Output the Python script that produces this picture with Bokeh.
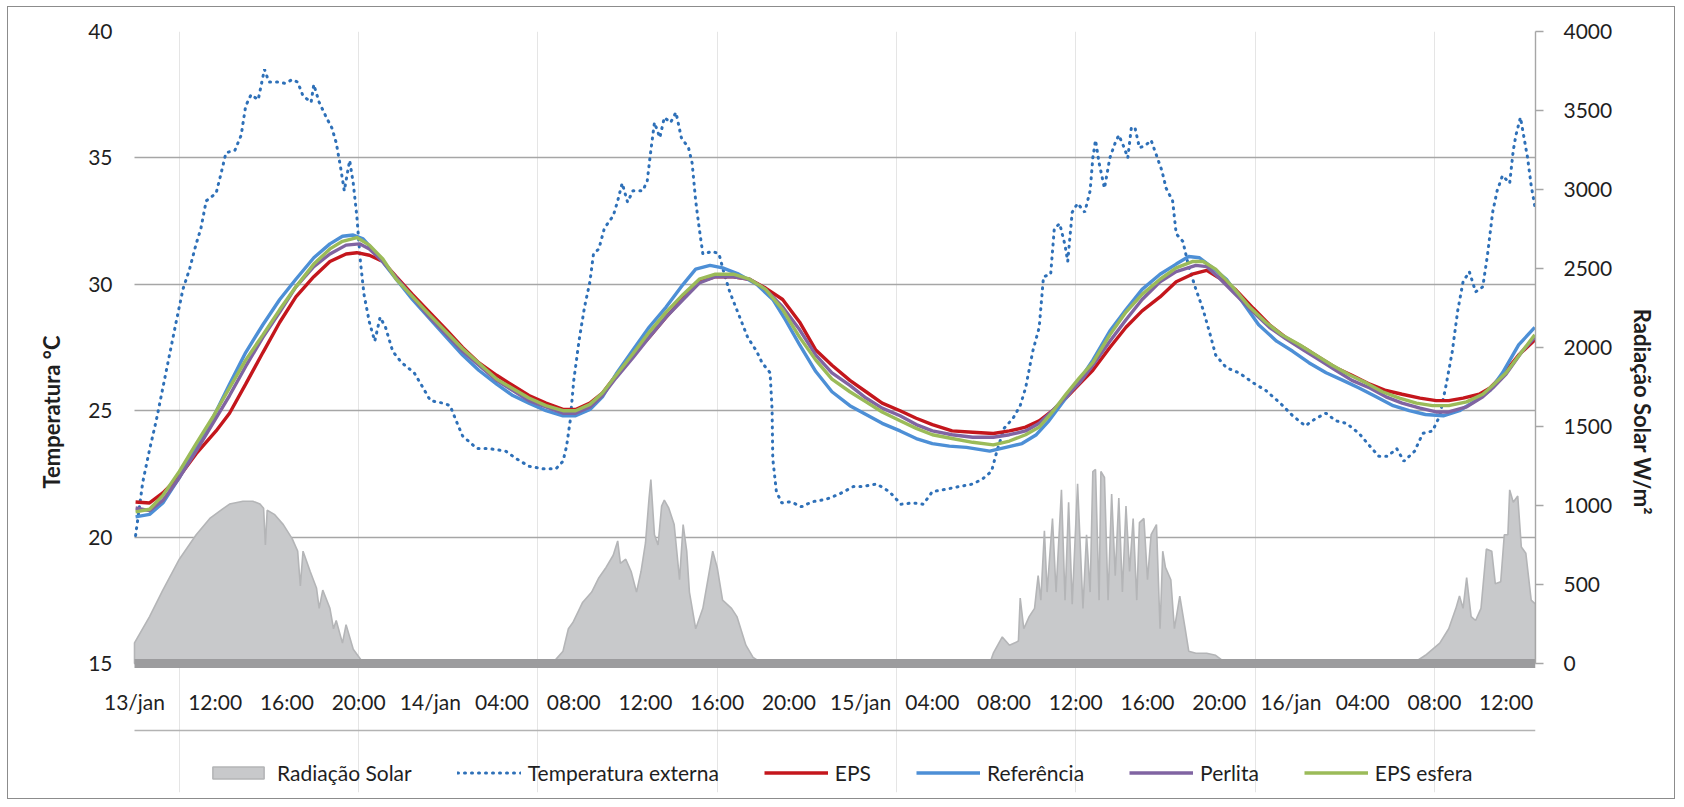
from bokeh.plotting import figure
from bokeh.models import (Range1d, LinearAxis, FixedTicker, Legend, LegendItem)
from bokeh.embed import file_html
from bokeh.resources import INLINE

# ---------------- data (hours counted from 13/jan 00:00) ----------------
tick_hours = [7.5, 12, 16, 20, 24, 28, 32, 36, 40, 44, 48, 52, 56, 60, 64, 68, 72, 76, 80, 84]
tick_labels = ["13/jan", "12:00", "16:00", "20:00", "14/jan", "04:00", "08:00", "12:00",
               "16:00", "20:00", "15/jan", "04:00", "08:00", "12:00", "16:00", "20:00",
               "16/jan", "04:00", "08:00", "12:00"]
x_start, x_end = 7.5, 85.64

temp_ticks = [15, 20, 25, 30, 35, 40]
rad_ticks = [0, 500, 1000, 1500, 2000, 2500, 3000, 3500, 4000]

rad_h = [7.5, 8.34, 9.08, 10.0, 10.94, 11.7, 12.25, 12.8, 13.55, 14.1, 14.5, 14.7, 14.8, 14.9,
         15.3, 15.8, 16.3, 16.6, 16.75, 16.9, 17.3, 17.65, 17.8, 18.0, 18.4, 18.6, 18.75, 19.1,
         19.3, 19.7, 20.2, 20.4, 30.45, 31.0, 31.4, 31.7, 31.95, 32.5, 33.0, 33.4, 33.8, 34.2,
         34.45, 34.6, 34.9, 35.2, 35.5, 35.75, 36.0, 36.2, 36.3, 36.5, 36.7, 36.9, 37.05, 37.3,
         37.6, 37.9, 38.1, 38.3, 38.45, 38.8, 39.2, 39.6, 39.75, 40.0, 40.3, 40.8, 41.1, 41.6,
         42.0, 42.35, 42.6, 55.2, 55.4, 55.9, 56.3, 56.8, 56.9, 57.1, 57.4, 57.7, 57.9, 58.05,
         58.25, 58.4, 58.7, 58.9, 59.2, 59.4, 59.6, 59.8, 60.1, 60.4, 60.6, 60.8, 60.95, 61.1,
         61.3, 61.4, 61.6, 61.8, 62.0, 62.2, 62.4, 62.6, 62.8, 63.0, 63.2, 63.4, 63.55, 63.8,
         64.0, 64.2, 64.5, 64.7, 64.85, 65.0, 65.3, 65.5, 65.8, 66.1, 66.3, 66.7, 67.3, 67.8,
         68.4, 78.8, 79.5, 80.3, 80.8, 81.2, 81.4, 81.6, 81.8, 82.05, 82.3, 82.6, 82.9, 83.2,
         83.4, 83.7, 83.9, 84.1, 84.2, 84.4, 84.65, 84.85, 85.1, 85.4, 85.64]
rad = [130, 297, 465, 660, 815, 918, 965, 1009, 1027, 1027, 1009, 983, 750, 970,
       944, 879, 789, 711, 491, 711, 582, 478, 349, 465, 349, 220, 272, 129,
       246, 90, 13, 0, 0, 26, 78, 220, 259, 388, 452, 543, 608, 685,
       776, 634, 660, 582, 452, 582, 763, 1047, 1164, 815, 750, 996, 1034, 983,
       879, 530, 879, 711, 452, 220, 349, 608, 711, 608, 401, 349, 297, 116,
       39, 13, 0, 0, 65, 168, 116, 142, 414, 220, 297, 349, 556, 401,
       840, 452, 918, 452, 1099, 401, 1021, 375, 1138, 349, 815, 452, 1215, 1228,
       401, 1215, 1177, 401, 1073, 556, 1047, 452, 996, 582, 918, 401, 892, 918,
       530, 815, 879, 220, 711, 608, 530, 220, 427, 220, 78, 65, 65, 52,
       0, 0, 52, 129, 220, 349, 427, 349, 543, 297, 272, 349, 724, 711,
       504, 517, 815, 815, 1099, 1021, 1060, 737, 698, 401, 375]

temp_ext_h = [7.56, 7.96, 8.34, 8.71, 9.08, 9.45, 9.82, 10.2, 10.57, 10.94, 11.2, 11.5, 12.05,
              12.3, 12.6, 13.1, 13.45, 13.7, 14.0, 14.4, 14.66, 14.75, 15.0, 15.5, 15.9, 16.3,
              16.6, 16.9, 17.35, 17.5, 17.8, 18.2, 18.5, 18.75, 19.0, 19.2, 19.5, 19.7, 19.9,
              20.1, 20.3, 20.6, 20.9, 21.2, 21.5, 21.9, 22.4, 23.1, 23.6, 24.0, 24.7, 25.1,
              25.5, 25.8, 26.6, 27.3, 28.2, 28.8, 29.5, 30.3, 31.0, 31.4, 31.6, 31.8, 32.0,
              32.3, 32.6, 32.9, 33.1, 33.4, 33.7, 33.98, 34.2, 34.45, 34.7, 35.0, 35.3, 35.85,
              36.1, 36.3, 36.5, 36.8, 37.05, 37.4, 37.7, 38.0, 38.4, 38.6, 38.8, 39.0, 39.2,
              39.75, 40.1, 40.4, 40.7, 41.2, 41.7, 42.2, 42.5, 42.95, 43.06, 43.1, 43.3, 43.6,
              44.1, 44.7, 45.3, 46.1, 46.8, 47.6, 48.1, 48.9, 49.6, 50.25, 50.9, 51.5, 52.0,
              52.8, 53.5, 54.25, 54.8, 55.3, 55.6, 56.0, 56.5, 56.9, 57.2, 57.6, 57.96, 58.2,
              58.6, 58.8, 59.1, 59.4, 59.55, 59.8, 60.1, 60.5, 60.8, 60.95, 61.1, 61.3, 61.6,
              61.9, 62.2, 62.4, 62.7, 62.9, 63.1, 63.3, 63.55, 63.9, 64.2, 64.5, 64.8, 65.04,
              65.4, 65.6, 65.97, 66.3, 66.7, 67.1, 67.5, 67.8, 68.4, 69.1, 69.9, 70.6, 71.4,
              72.1, 72.8, 73.4, 73.96, 74.5, 75.1, 75.8, 76.4, 76.9, 77.4, 77.9, 78.3, 78.9,
              79.35, 79.9, 80.3, 80.65, 81.0, 81.3, 81.6, 81.95, 82.3, 82.7, 82.97, 83.25,
              83.5, 83.8, 84.2, 84.4, 84.55, 84.8, 85.0, 85.2, 85.4, 85.6]
temp_ext = [20.06, 22.17, 23.46, 24.6, 25.9, 27.2, 28.5, 29.8, 30.6, 31.6, 32.2, 33.3, 33.6,
            34.3, 35.2, 35.3, 35.9, 37.05, 37.5, 37.3, 38.2, 38.5, 38.0, 38.0, 37.95, 38.1,
            38.0, 37.45, 37.2, 37.9, 37.2, 36.6, 36.2, 35.6, 34.6, 33.7, 34.9, 34.0, 32.7,
            30.9, 29.6, 28.5, 27.75, 28.7, 28.3, 27.35, 26.9, 26.5, 25.9, 25.4, 25.3, 25.2,
            24.5, 24.0, 23.5, 23.5, 23.4, 23.1, 22.8, 22.7, 22.7, 23.0, 23.6, 24.6, 26.2,
            27.8, 29.1, 30.1, 31.2, 31.4, 32.2, 32.5, 32.7, 33.3, 34.0, 33.25, 33.7, 33.7,
            34.1, 35.3, 36.4, 35.8, 36.6, 36.4, 36.8, 35.8, 35.4, 34.8, 33.3, 32.2, 31.2,
            31.3, 31.2, 30.4, 29.7, 28.8, 27.9, 27.35, 26.9, 26.5, 25.05, 23.1, 21.8, 21.35,
            21.4, 21.2, 21.4, 21.5, 21.7, 22.0, 22.0, 22.1, 21.8, 21.3, 21.35, 21.3, 21.8,
            21.9, 22.0, 22.1, 22.3, 22.6, 23.4, 24.3, 24.7, 25.2, 25.9, 27.35, 28.3, 30.3,
            30.4, 32.2, 32.4, 31.55, 30.9, 32.85, 33.2, 32.85, 33.7, 35.0, 35.7, 34.8, 33.8,
            35.0, 35.6, 35.9, 35.4, 35.0, 36.2, 36.2, 35.4, 35.5, 35.7, 35.1, 34.5, 33.8,
            33.3, 32.0, 31.7, 30.7, 29.8, 29.0, 28.0, 27.2, 26.7, 26.5, 26.1, 25.8, 25.3,
            24.8, 24.4, 24.7, 24.9, 24.6, 24.5, 24.1, 23.6, 23.2, 23.2, 23.5, 23.0, 23.4,
            24.1, 24.2, 24.8, 26.0, 27.35, 28.95, 30.1, 30.5, 29.7, 29.9, 31.2, 32.85,
            33.7, 34.3, 34.0, 35.3, 35.9, 36.6, 35.8, 35.0, 33.9, 33.1]

eps_h = [7.56, 8.34, 9.08, 10.0, 10.94, 12.05, 12.8, 13.7, 14.66, 15.6, 16.5, 17.5, 18.4, 19.3,
         19.9, 20.6, 21.35, 22.1, 23.0, 23.95, 24.9, 25.8, 26.7, 27.7, 28.6, 29.5, 30.45, 31.4,
         32.1, 32.9, 33.6, 34.36, 35.3, 36.2, 37.15, 38.1, 39.0, 39.9, 40.9, 41.8, 42.7, 43.65,
         44.6, 45.5, 46.4, 47.4, 48.3, 49.2, 50.2, 51.1, 52.0, 53.1, 54.25, 55.4, 56.3, 57.2,
         57.96, 58.7, 59.45, 60.2, 60.95, 61.9, 62.8, 63.7, 64.7, 65.6, 66.5, 67.3, 68.0, 68.9,
         69.9, 70.8, 71.7, 72.7, 73.6, 74.5, 75.4, 76.4, 77.3, 78.2, 79.2, 80.1, 80.8, 81.6,
         82.5, 83.1, 83.8, 84.7, 85.6]
eps = [21.39, 21.35, 21.75, 22.4, 23.3, 24.2, 24.9, 26.05, 27.3, 28.5, 29.5, 30.3, 30.9, 31.2,
       31.25, 31.15, 30.9, 30.3, 29.6, 28.9, 28.2, 27.5, 26.9, 26.4, 26.0, 25.6, 25.3, 25.05,
       25.05, 25.3, 25.7, 26.4, 27.2, 27.9, 28.7, 29.45, 30.1, 30.3, 30.3, 30.2, 29.85, 29.4,
       28.5, 27.4, 26.8, 26.2, 25.75, 25.3, 25.0, 24.7, 24.45, 24.2, 24.15, 24.1, 24.2, 24.35,
       24.6, 25.0, 25.5, 26.05, 26.6, 27.5, 28.3, 28.95, 29.5, 30.1, 30.4, 30.55, 30.25, 29.8,
       29.05, 28.4, 27.9, 27.5, 27.1, 26.7, 26.4, 26.05, 25.8, 25.65, 25.5, 25.4, 25.4, 25.5,
       25.65, 25.9, 26.4, 27.2, 27.8]

ref_h = [7.56, 8.34, 9.08, 10.0, 10.94, 11.9, 12.8, 13.7, 14.66, 15.6, 16.5, 17.5, 18.4, 19.1,
         19.7, 20.25, 21.0, 22.1, 23.0, 23.95, 24.9, 25.8, 26.7, 27.7, 28.6, 29.5, 30.45, 31.4,
         32.1, 32.9, 33.6, 34.36, 35.3, 36.2, 37.15, 38.1, 38.8, 39.6, 40.3, 41.2, 42.2, 43.1,
         43.8, 44.6, 45.5, 46.4, 47.4, 48.3, 49.2, 50.2, 51.1, 52.0, 52.95, 53.9, 55.2, 56.1,
         57.0, 57.8, 58.5, 59.45, 60.2, 60.95, 61.9, 62.8, 63.7, 64.7, 65.6, 66.3, 66.9, 67.45,
         68.4, 69.3, 70.2, 71.2, 72.1, 73.0, 73.96, 74.9, 75.8, 76.75, 77.7, 78.6, 79.5, 80.5,
         81.4, 82.3, 83.1, 83.8, 84.7, 85.6]
ref = [20.8, 20.9, 21.35, 22.35, 23.55, 24.75, 26.05, 27.3, 28.4, 29.4, 30.2, 31.05, 31.6, 31.9,
       31.95, 31.8, 31.2, 30.2, 29.4, 28.65, 27.9, 27.2, 26.6, 26.05, 25.6, 25.3, 25.0, 24.8,
       24.8, 25.05, 25.55, 26.45, 27.4, 28.3, 29.1, 30.0, 30.6, 30.75, 30.65, 30.4, 30.0, 29.4,
       28.6, 27.6, 26.55, 25.75, 25.2, 24.85, 24.5, 24.2, 23.9, 23.7, 23.6, 23.55, 23.4, 23.55,
       23.7, 24.05, 24.6, 25.5, 26.2, 27.0, 28.15, 29.0, 29.8, 30.4, 30.8, 31.1, 31.05, 30.75,
       30.2, 29.3, 28.4, 27.75, 27.35, 26.9, 26.5, 26.2, 25.9, 25.55, 25.2, 25.0, 24.85, 24.8,
       25.0, 25.4, 25.8, 26.5, 27.6, 28.3]

perl_h = [7.56, 8.34, 9.08, 10.0, 10.94, 11.87, 12.8, 13.7, 14.66, 15.6, 16.5, 17.5, 18.4, 19.3,
          20.05, 20.6, 21.35, 23.95, 25.8, 27.7, 29.5, 31.4, 32.1, 32.9, 33.6, 34.36, 35.3,
          36.2, 37.15, 38.1, 39.0, 39.9, 40.9, 41.8, 42.7, 43.65, 44.6, 45.5, 46.4, 47.4, 48.3,
          49.2, 50.2, 51.1, 52.0, 53.1, 54.25, 55.4, 56.3, 57.2, 57.96, 58.7, 59.45, 60.2,
          60.95, 61.9, 62.8, 63.7, 64.7, 65.6, 66.7, 67.3, 68.0, 68.9, 69.9, 70.8, 71.7, 72.7,
          73.6, 74.5, 75.4, 76.4, 77.3, 78.2, 79.2, 80.1, 80.8, 81.8, 82.7, 83.25, 84.0, 84.9,
          85.6]
perl = [21.15, 21.05, 21.45, 22.35, 23.4, 24.5, 25.6, 26.75, 27.9, 28.9, 29.9, 30.7, 31.2, 31.55,
        31.6, 31.4, 30.9, 28.7, 27.35, 26.2, 25.4, 24.9, 24.9, 25.15, 25.6, 26.3, 27.1,
        27.9, 28.7, 29.4, 30.05, 30.3, 30.3, 30.2, 29.8, 29.1, 28.2, 27.2, 26.5, 26.0, 25.5,
        25.1, 24.8, 24.45, 24.2, 24.05, 23.95, 23.95, 24.05, 24.2, 24.5, 25.0, 25.55, 26.1,
        26.8, 27.75, 28.6, 29.4, 30.1, 30.5, 30.75, 30.7, 30.25, 29.6, 28.9, 28.3, 27.85, 27.4,
        27.0, 26.6, 26.2, 25.9, 25.55, 25.3, 25.1, 24.95, 24.95, 25.15, 25.55, 25.9, 26.45,
        27.35, 27.9]

esf_h = [7.56, 8.34, 9.08, 10.0, 10.94, 11.87, 12.8, 13.7, 14.66, 15.6, 16.5, 17.5, 18.4, 19.1,
         19.9, 20.6, 21.35, 22.1, 23.95, 25.8, 27.7, 29.5, 30.45, 31.4, 32.1, 32.9, 33.6, 34.36,
         35.3, 36.2, 37.15, 38.1, 39.0, 39.9, 40.9, 41.8, 42.7, 43.65, 44.6, 45.5, 46.4, 47.4,
         48.3, 49.2, 50.2, 51.1, 52.0, 53.1, 54.25, 55.4, 56.3, 57.2, 57.96, 58.7, 59.45, 60.2,
         60.95, 61.9, 62.8, 63.7, 64.7, 65.6, 66.5, 67.1, 67.8, 68.75, 69.7, 70.6, 71.5, 72.5,
         73.4, 74.3, 75.3, 76.2, 77.1, 78.05, 79.0, 79.9, 80.8, 81.8, 82.7, 83.25, 84.0, 84.9,
         85.6]
esf = [21.0, 21.1, 21.65, 22.6, 23.7, 24.75, 25.9, 27.0, 28.0, 29.0, 29.9, 30.8, 31.4, 31.7,
       31.85, 31.55, 31.0, 30.2, 28.8, 27.45, 26.25, 25.5, 25.2, 25.0, 25.0, 25.25, 25.7, 26.4,
       27.25, 28.1, 28.9, 29.6, 30.2, 30.4, 30.4, 30.2, 29.8, 29.0, 27.9, 27.0, 26.25, 25.75,
       25.35, 24.95, 24.6, 24.3, 24.05, 23.9, 23.75, 23.65, 23.8, 24.05, 24.35, 24.95, 25.65, 26.3,
       26.9, 28.0, 28.9, 29.6, 30.2, 30.65, 30.9, 30.9, 30.6, 29.9, 29.1, 28.5, 28.0, 27.6,
       27.2, 26.8, 26.4, 26.1, 25.75, 25.5, 25.3, 25.2, 25.2, 25.35, 25.65, 26.0, 26.5, 27.35,
       28.0]

for a, b in [(rad_h, rad), (temp_ext_h, temp_ext), (eps_h, eps), (ref_h, ref),
             (perl_h, perl), (esf_h, esf), (tick_hours, tick_labels)]:
    assert len(a) == len(b), (len(a), len(b))

# ---------------- layout & styling ----------------
FONT = "Lato"
TXT = "#1f1f1f"
GRID = "#a6a6a6"
PLOT_W = 1401         # pixel width of the data span
PLOT_H = 632          # pixel height of the 15..40 band
LABEL_ZONE = 67       # pixels between the axis band and the separator line
LEGEND_ZONE = 62      # pixels below the separator that hold the legend
LEFT_PAD = 36         # extra frame room so the first time label is not clipped
px_per_temp = PLOT_H / (40 - 15)
px_per_rad = PLOT_H / 4000
px_per_hour = PLOT_W / (x_end - x_start)
below_px = LABEL_ZONE + LEGEND_ZONE
y_lo = 15 - below_px / px_per_temp
r_lo = 0 - below_px / px_per_rad
x_lo = x_start - LEFT_PAD / px_per_hour

p = figure(frame_width=PLOT_W + LEFT_PAD, frame_height=PLOT_H + below_px,
           output_backend="svg", toolbar_location=None,
           x_range=Range1d(x_lo, x_end), y_range=Range1d(y_lo, 40),
           min_border_left=126 - LEFT_PAD, min_border_right=139, min_border_top=24,
           min_border_bottom=6, x_axis_location=None)
p.styles = {"border": "1px solid #8c8c8c", "margin-left": "7px", "margin-top": "6px"}
p.outline_line_color = None
p.background_fill_color = "white"
p.border_fill_color = "white"
p.extra_y_ranges = {"rad": Range1d(r_lo, 4000)}

# radiation area (closed polygon on the 0 baseline)
rad_poly_x = [rad_h[0]] + rad_h + [rad_h[-1]]
rad_poly_y = [0] + rad + [0]
r_rad = p.patch(rad_poly_x, rad_poly_y, y_range_name="rad", fill_color="#c8c9cb",
                line_color="#b4b5b7", line_width=1.6)

r_ext = p.line(temp_ext_h, temp_ext, line_color="#2e70b8", line_width=3,
               line_dash="1 6", line_cap="round")
r_eps = p.line(eps_h, eps, line_color="#c4161c", line_width=3.4)
r_ref = p.line(ref_h, ref, line_color="#4d8fd6", line_width=3.4)
r_perl = p.line(perl_h, perl, line_color="#8064a2", line_width=3.4)
r_esf = p.line(esf_h, esf, line_color="#9bbb59", line_width=3.4)

# time axis pinned at the 15 °C / 0 W/m² baseline: thick band, labels pushed beneath it
xa = LinearAxis(fixed_location=15, ticker=FixedTicker(ticks=tick_hours),
                bounds=(x_start, x_end))
xa.major_label_overrides = {t: l for t, l in zip(tick_hours, tick_labels)}
xa.axis_line_width = 9
xa.axis_line_color = "#9c9c9e"
xa.major_tick_line_color = None
xa.minor_tick_line_color = None
xa.major_tick_out = 0
xa.major_tick_in = 0
xa.major_label_standoff = -50
xa.major_label_text_font = FONT
xa.major_label_text_font_size = "21px"
xa.major_label_text_color = TXT
p.add_layout(xa, "above")

# separator line above the legend (unlabeled axis pinned inside the frame)
sa = LinearAxis(fixed_location=15 - LABEL_ZONE / px_per_temp, ticker=FixedTicker(ticks=[]),
                bounds=(x_start, x_end))
sa.axis_line_color = "#b3b3b3"
sa.axis_line_width = 1.4
sa.major_tick_line_color = None
sa.minor_tick_line_color = None
sa.major_tick_out = 0
sa.major_tick_in = 0
sa.major_label_standoff = 0
p.add_layout(sa, "above")

# left axis
ya = p.yaxis[0]
ya.ticker = FixedTicker(ticks=temp_ticks)
ya.bounds = (15, 40)
ya.axis_line_color = None
ya.major_tick_line_color = None
ya.minor_tick_line_color = None
ya.major_tick_out = 0
ya.major_label_standoff = 22 - LEFT_PAD
ya.major_label_text_font = FONT
ya.major_label_text_font_size = "21px"
ya.major_label_text_color = TXT
ya.axis_label = "Temperatura °C"
ya.axis_label_text_font = FONT
ya.axis_label_text_font_style = "bold"
ya.axis_label_text_font_size = "22px"
ya.axis_label_text_color = TXT
ya.axis_label_standoff = 20

p.ygrid.ticker = FixedTicker(ticks=temp_ticks)
p.ygrid.grid_line_color = GRID
p.ygrid.grid_line_width = 1.4
try:
    p.ygrid.cross_bounds = (x_start, x_end)
except Exception:
    pass

# right axis
ra = LinearAxis(y_range_name="rad", ticker=FixedTicker(ticks=rad_ticks), bounds=(0, 4000))
ra.axis_line_color = GRID
ra.axis_line_width = 1.4
ra.major_tick_line_color = GRID
ra.major_tick_line_width = 1.4
ra.major_tick_in = 0
ra.major_tick_out = 8
ra.minor_tick_line_color = None
ra.major_label_standoff = 20
ra.major_label_text_font = FONT
ra.major_label_text_font_size = "21px"
ra.major_label_text_color = TXT
ra.axis_label = "Radiação Solar W/m²"
ra.axis_label_text_font = FONT
ra.axis_label_text_font_style = "bold"
ra.axis_label_text_font_size = "22px"
ra.axis_label_text_color = TXT
ra.axis_label_standoff = 14
p.add_layout(ra, "right")

# legend inside the frame's lowest zone
legend = Legend(items=[
    LegendItem(label="Radiação Solar", renderers=[r_rad]),
    LegendItem(label="Temperatura externa", renderers=[r_ext]),
    LegendItem(label="EPS", renderers=[r_eps]),
    LegendItem(label="Referência", renderers=[r_ref]),
    LegendItem(label="Perlita", renderers=[r_perl]),
    LegendItem(label="EPS esfera", renderers=[r_esf]),
], orientation="horizontal", location=(LEFT_PAD + 72, 7))
legend.label_text_font = FONT
legend.label_text_font_size = "21px"
legend.label_text_color = TXT
legend.glyph_width = 64
legend.glyph_height = 15
legend.label_standoff = 7
legend.spacing = 45
legend.padding = 0
legend.margin = 0
legend.border_line_color = None
legend.background_fill_alpha = 0
p.add_layout(legend)

open("out.html", "w").write(file_html(p, INLINE))
